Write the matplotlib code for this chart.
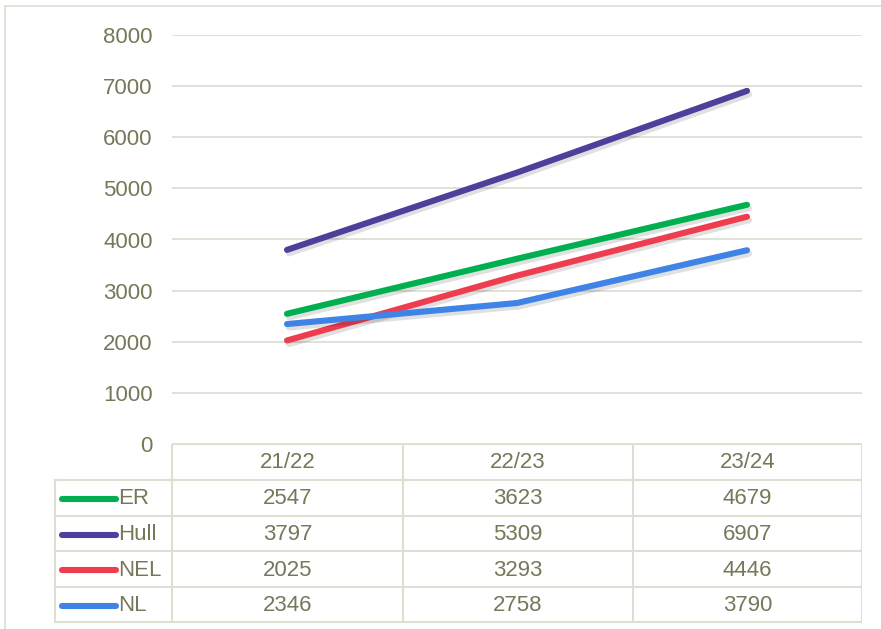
import matplotlib
matplotlib.use("Agg")
import matplotlib.pyplot as plt
import matplotlib.patheffects as pe
from matplotlib.lines import Line2D

plt.rcParams['font.family'] = ['Liberation Sans', 'DejaVu Sans']

# Data
periods = ["21/22", "22/23", "23/24"]
series_names = ["ER", "Hull", "NEL", "NL"]
er = [2547, 3623, 4679]
hull = [3797, 5309, 6907]
nel = [2025, 3293, 4446]
nl = [2346, 2758, 3790]
colors = ["#00b050", "#4f3f9b", "#ee3d4f", "#3f83e6"]
yticks = [0, 1000, 2000, 3000, 4000, 5000, 6000, 7000, 8000]

values = [er, hull, nel, nl]
text_col = "#77775a"
grid_col = "#deded3"
fs = 16

W, H = 881, 629
fig = plt.figure(figsize=(W / 100, H / 100), dpi=100)

def px_box(x0, y0, x1, y1):
    return [x0 / W, 1 - y1 / H, (x1 - x0) / W, (y1 - y0) / H]

# outer frame
fig.add_artist(Line2D([5 / W, 5 / W], [0, 1 - 6 / H], color=grid_col, lw=1.2))
fig.add_artist(Line2D([5 / W, 1], [1 - 6 / H, 1 - 6 / H], color=grid_col, lw=1.2))

# Main plot
ax = fig.add_axes(px_box(172, 35, 862, 444))
x = range(len(periods))
shadow = [pe.SimpleLineShadow(offset=(1.5, -2.5), shadow_color="k", alpha=0.12), pe.Normal()]
for vals, c in zip(values, colors):
    ax.plot(x, vals, color=c, lw=4.4, solid_capstyle="round", path_effects=shadow, zorder=3)
ax.set_xlim(-0.5, len(periods) - 0.5)
ax.set_ylim(0, 8000)
ax.set_yticks(yticks)
ax.set_yticklabels([str(v) for v in yticks], color=text_col, fontsize=fs)
ax.tick_params(axis="y", length=0, pad=14)
ax.set_xticks([])
ax.grid(axis="y", color=grid_col, lw=1.3)
for s in ax.spines.values():
    s.set_visible(False)

# Data table
tab = fig.add_axes(px_box(40, 444, 862, 625))
tab.set_xlim(40, 862)
tab.set_ylim(625, 444)
tab.axis("off")
col_edges = [172, 403, 633, 862]
row_edges = [444, 480, 516, 551, 587, 622]
lk = dict(color=grid_col, lw=1.5)
tab.plot([172, 862], [row_edges[0]] * 2, **lk)
for y in row_edges[1:]:
    tab.plot([55, 862], [y, y], **lk)
for xe in col_edges:
    tab.plot([xe, xe], [row_edges[0], row_edges[-1]], **lk)
tab.plot([55, 55], [row_edges[1], row_edges[-1]], **lk)

for j, p in enumerate(periods):
    cx = (col_edges[j] + col_edges[j + 1]) / 2
    tab.text(cx, (row_edges[0] + row_edges[1]) / 2 + 1, p, ha="center", va="center",
             color=text_col, fontsize=fs)
for i, (name, vals, c) in enumerate(zip(series_names, values, colors)):
    cy = (row_edges[i + 1] + row_edges[i + 2]) / 2 + 1
    tab.plot([62, 116], [cy, cy], color=c, lw=4.4, solid_capstyle="round")
    tab.text(118, cy, name, ha="left", va="center", color=text_col, fontsize=fs)
    for j, v in enumerate(vals):
        cx = (col_edges[j] + col_edges[j + 1]) / 2
        tab.text(cx, cy, str(v), ha="center", va="center", color=text_col, fontsize=fs)

fig.savefig("out.png", dpi=100, facecolor="white")
